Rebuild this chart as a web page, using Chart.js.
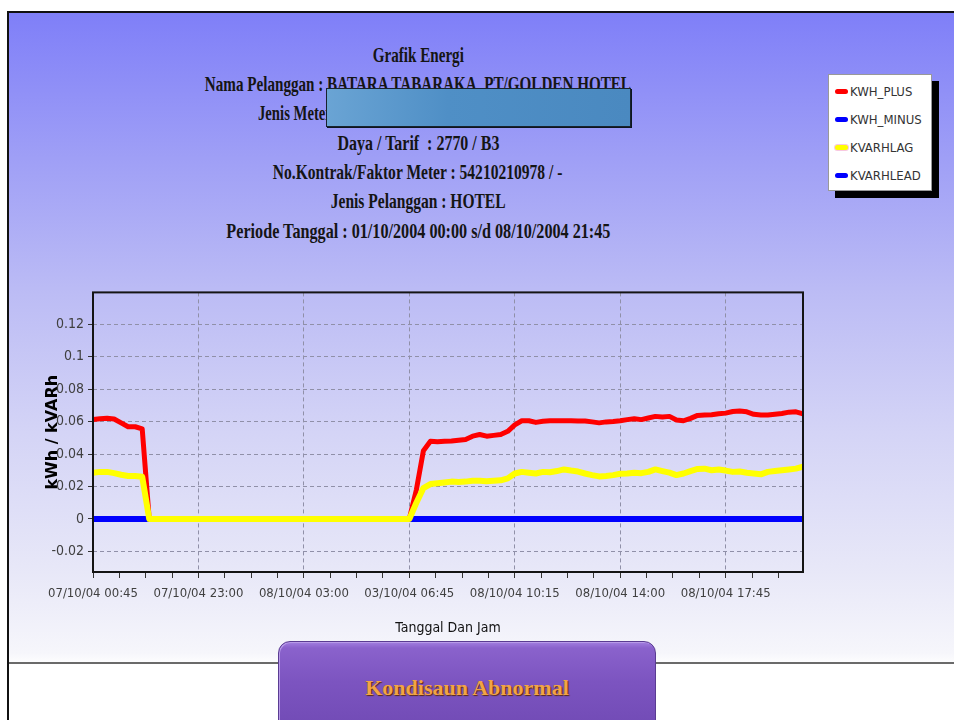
<!DOCTYPE html>
<html>
<head>
<meta charset="utf-8">
<script src="https://cdn.jsdelivr.net/npm/chart.js@4.4.1/dist/chart.umd.min.js"></script>
<style>
  html, body { margin: 0; padding: 0; }
  body { width: 954px; height: 720px; overflow: hidden; background: #ffffff; position: relative; }
  #page {
    position: absolute; left: 7px; top: 11px; width: 947px; height: 709px;
    border-left: 2px solid #111; border-top: 2px solid #111;
    background: linear-gradient(to bottom, #7f7ff8 0px, #a0a0f6 150px, #bcbcf5 280px, #d4d4f6 420px, #e8e8f8 560px, #f6f6fb 640px, #ffffff 652px, #ffffff 709px);
  }
  .tl {
    position: absolute; left: 0; width: 836px; text-align: center;
    font-family: "Liberation Serif", "Times New Roman", serif; font-weight: bold; font-size: 21px;
    color: #151515; line-height: 24px; white-space: nowrap;
  }
  .tl span { display: inline-block; transform: scaleX(0.74); transform-origin: center; }
  #redact {
    position: absolute; left: 326px; top: 88px; width: 303px; height: 37px;
    background: linear-gradient(to right, #6aa4d4, #4f8fc6 40%, #4a89c0);
    border: 1px solid #18222e; box-shadow: 1px 1px 0 #0d1620;
  }
  #legend {
    position: absolute; left: 828px; top: 74px; width: 102px; height: 115px;
    background: #fff; border: 1px solid #999; box-shadow: 7px 7px 0 #000;
    font-family: "DejaVu Sans Condensed", "DejaVu Sans", sans-serif; font-size: 13px; color: #333;
  }
  .lr { position: absolute; left: 0; height: 16px; line-height: 16px; white-space: nowrap; }
  .sw { display: inline-block; width: 13px; height: 5px; border-radius: 3px; vertical-align: middle; margin: 0 2px 0 6px; position: relative; top: -1px; }
  #hline { position: absolute; left: 9px; right: 0; top: 662px; height: 2px; background: #6a6a6a; }
  #btn {
    position: absolute; left: 278px; top: 641px; width: 376px; height: 100px;
    border-radius: 12px 12px 0 0;
    background: linear-gradient(to bottom, #a27ee0 0px, #8a62cc 6px, #7c54c0 40px, #6e48b2 100px);
    border: 1px solid #5a3c92; box-shadow: inset 1px 1px 0 #b89ae8;
    text-align: center;
  }
  #btn span {
    position: absolute; left: 0; right: 0; top: 33px;
    font-family: "Liberation Serif", "Times New Roman", serif; font-weight: bold; font-size: 22px;
    color: #f2a444; text-shadow: 1px 1px 1px #5a2a10;
  }
  #chartWrap { position: absolute; left: 35px; top: 280px; width: 795px; height: 360px; }
</style>
</head>
<body>
<div id="page"></div>

<div class="tl" style="top:43px;"><span style="transform:scaleX(0.72)">Grafik Energi</span></div>
<div class="tl" style="top:72px;"><span style="transform:scaleX(0.72)">Nama Pelanggan : BATARA TABARAKA, PT/GOLDEN HOTEL</span></div>
<div class="tl" style="top:101px; left:258px; width:auto; text-align:left;"><span style="transform:scaleX(0.70); transform-origin:left center;">Jenis Meter : </span></div>
<div id="redact"></div>
<div class="tl" style="top:131px;"><span style="transform:scaleX(0.76)">Daya / Tarif&nbsp;&nbsp;: 2770 / B3</span></div>
<div class="tl" style="top:160px;"><span>No.Kontrak/Faktor Meter : 54210210978 / -</span></div>
<div class="tl" style="top:189px;"><span>Jenis Pelanggan : HOTEL</span></div>
<div class="tl" style="top:219px;"><span style="transform:scaleX(0.77)">Periode Tanggal : 01/10/2004 00:00 s/d 08/10/2004 21:45</span></div>

<div id="legend"></div>

<div id="chartWrap"><canvas id="c" width="795" height="360"></canvas></div>

<div id="hline"></div>
<div id="btn"><span>Kondisaun Abnormal</span></div>

<script>
// ---- data ----
const seriesNames = ['KWH_PLUS', 'KWH_MINUS', 'KVARHLAG', 'KVARHLEAD'];
const seriesColors = ['#ff0000', '#0000ff', '#ffff00', '#0000ff'];

const xTickLabels = ['07/10/04 00:45', '07/10/04 23:00', '08/10/04 03:00', '03/10/04 06:45',
                     '08/10/04 10:15', '08/10/04 14:00', '08/10/04 17:45'];
const yTickValues = [-0.02, 0, 0.02, 0.04, 0.06, 0.08, 0.1, 0.12];
const yTickLabels = ['-0.02', '0', '0.02', '0.04', '0.06', '0.08', '0.1', '0.12'];

const kwhPlus = [
  0.0612, 0.0618, 0.0620, 0.0616, 0.0592, 0.0568, 0.0568, 0.0555, 0,
  0,0,0,0,0,0,0,0,0,0,
  0,0,0,0,0,0,0,0,0,0,
  0,0,0,0,0,0,0,0,0,0,
  0,0,0,0,0,0,0,
  0.018, 0.042, 0.0478, 0.0475, 0.0478, 0.048, 0.0485, 0.049, 0.051, 0.052,
  0.051, 0.0515, 0.052, 0.054, 0.058, 0.0605, 0.0605, 0.0595, 0.0602, 0.0605,
  0.0605, 0.0605, 0.0605, 0.0604, 0.0604, 0.0598, 0.0592, 0.0598, 0.060, 0.0605,
  0.0612, 0.0618, 0.0612, 0.0622, 0.0632, 0.0628, 0.0632, 0.061, 0.0605, 0.062,
  0.0638, 0.064, 0.0642, 0.0648, 0.0652, 0.0662, 0.0665, 0.066, 0.0645, 0.064,
  0.064, 0.0645, 0.065, 0.0658, 0.066, 0.0648
];

const kwhMinus = [
  0,0,0,0,0,0,0,0,0,0, 0,0,0,0,0,0,0,0,0,0, 0,0,0,0,0,0,0,0,0,0,
  0,0,0,0,0,0,0,0,0,0, 0,0,0,0,0,0,0,0,0,0, 0,0,0,0,0,0,0,0,0,0,
  0,0,0,0,0,0,0,0,0,0, 0,0,0,0,0,0,0,0,0,0, 0,0,0,0,0,0,0,0,0,0,
  0,0,0,0,0,0,0,0,0,0, 0,0
];

const kvarhLag = [
  0.0285, 0.029, 0.029, 0.0282, 0.0272, 0.0265, 0.0265, 0.026, 0,
  0,0,0,0,0,0,0,0,0,0,
  0,0,0,0,0,0,0,0,0,0,
  0,0,0,0,0,0,0,0,0,0,
  0,0,0,0,0,0,0,
  0.010, 0.019, 0.0215, 0.022, 0.0225, 0.023, 0.0228, 0.023, 0.0235, 0.0235,
  0.0232, 0.0235, 0.0238, 0.025, 0.028, 0.029, 0.0285, 0.028, 0.029, 0.0288,
  0.0295, 0.0305, 0.0298, 0.0292, 0.028, 0.027, 0.0262, 0.0265, 0.027, 0.0278,
  0.028, 0.0285, 0.0282, 0.029, 0.0305, 0.0295, 0.0285, 0.027, 0.028, 0.0295,
  0.0308, 0.031, 0.030, 0.0305, 0.0298, 0.029, 0.0292, 0.0285, 0.028, 0.0275,
  0.029, 0.0295, 0.030, 0.0305, 0.031, 0.0322
];

const kvarhLead = [
  0,0,0,0,0,0,0,0,0,0, 0,0,0,0,0,0,0,0,0,0, 0,0,0,0,0,0,0,0,0,0,
  0,0,0,0,0,0,0,0,0,0, 0,0,0,0,0,0,0,0,0,0, 0,0,0,0,0,0,0,0,0,0,
  0,0,0,0,0,0,0,0,0,0, 0,0,0,0,0,0,0,0,0,0, 0,0,0,0,0,0,0,0,0,0,
  0,0,0,0,0,0,0,0,0,0, 0,0
];

const seriesData = [kwhPlus, kwhMinus, kvarhLag, kvarhLead];
const pointsPerMajor = 15;   // readings between labelled ticks
const minorPerMajor = 4;
const pointIndex = kwhPlus.map((_, i) => i);

// ---- legend (HTML, from the series arrays) ----
const legendEl = document.getElementById('legend');
const rowTops = [9, 37, 65, 93];
seriesNames.forEach((name, i) => {
  const row = document.createElement('div');
  row.className = 'lr';
  row.style.top = rowTops[i] + 'px';
  const sw = document.createElement('span');
  sw.className = 'sw';
  sw.style.background = seriesColors[i];
  if (seriesColors[i] === '#ffff00') sw.style.boxShadow = '0 0 0 1px #f8c8e0';
  row.appendChild(sw);
  row.appendChild(document.createTextNode(name));
  legendEl.appendChild(row);
});

// ---- chart ----
const drawOrder = [1, 2, 0, 3];
const widths = [5, 6, 6, 6];

const framePlugin = {
  id: 'frame',
  afterDraw(chart) {
    const { ctx, chartArea: a } = chart;
    ctx.save();
    ctx.strokeStyle = '#141414';
    ctx.lineWidth = 2;
    ctx.strokeRect(a.left, a.top, a.right - a.left, a.bottom - a.top);
    ctx.restore();
  }
};

const tickFont = { family: "'DejaVu Sans Condensed', 'DejaVu Sans', sans-serif", size: 13 };

new Chart(document.getElementById('c'), {
  type: 'line',
  data: {
    labels: pointIndex,
    datasets: seriesNames.map((name, i) => ({
      label: name,
      data: seriesData[i],
      borderColor: seriesColors[i],
      backgroundColor: seriesColors[i],
      borderWidth: widths[i],
      pointRadius: 0,
      tension: 0,
      fill: false,
      order: drawOrder[i],
      borderJoinStyle: 'round',
      borderCapStyle: 'butt'
    }))
  },
  options: {
    responsive: false,
    animation: false,
    devicePixelRatio: 1,
    layout: { padding: { top: 9, right: 27, bottom: 0, left: 0 } },
    plugins: { legend: { display: false }, tooltip: { enabled: false } },
    scales: {
      x: {
        type: 'linear',
        min: 0,
        max: pointIndex[pointIndex.length - 1],
        afterBuildTicks(scale) {
          const step = pointsPerMajor / minorPerMajor;
          const t = [];
          for (let v = 0; v <= scale.max + 1e-9; v += step) t.push({ value: v });
          scale.ticks = t;
        },
        afterFit(scale) { scale.height = 68; },
        ticks: {
          autoSkip: false, maxRotation: 0, minRotation: 0,
          padding: 8,
          color: '#404040',
          font: tickFont,
          callback(value) {
            const k = value / pointsPerMajor;
            return Math.abs(k - Math.round(k)) < 1e-6 ? xTickLabels[Math.round(k)] : '';
          }
        },
        grid: {
          drawOnChartArea: true,
          color(ctx) {
            if (ctx.type !== 'tick') return 'transparent';
            const v = ctx.tick.value;
            const k = v / pointsPerMajor;
            return (v > 0 && Math.abs(k - Math.round(k)) < 1e-6) ? '#9090a8' : 'transparent';
          },
          tickColor: '#333',
          tickLength: 6,
          tickWidth: 1,
          tickBorderDash: [],
          lineWidth: 1
        },
        border: { display: false, dash: [4, 3] },
        title: {
          display: true, text: 'Tanggal Dan Jam', color: '#111',
          font: { family: "'DejaVu Sans Condensed', 'DejaVu Sans', sans-serif", size: 14 },
          padding: { top: 0, bottom: 3 }
        }
      },
      y: {
        type: 'linear',
        min: -0.0327,
        max: 0.1396,
        afterBuildTicks(scale) { scale.ticks = yTickValues.map(v => ({ value: v })); },
        afterFit(scale) { scale.width = 58; },
        ticks: {
          padding: 4,
          color: '#404040',
          font: { family: "'DejaVu Sans Condensed', 'DejaVu Sans', sans-serif", size: 14 },
          callback(value, index) { return yTickLabels[index]; }
        },
        grid: {
          color: '#9090a8',
          tickColor: '#333',
          tickLength: 5,
          tickBorderDash: [],
          lineWidth: 1
        },
        border: { display: false, dash: [4, 3] },
        title: {
          display: true, text: 'kWh / kVARh', color: '#000',
          font: { family: "'DejaVu Sans', sans-serif", size: 16, weight: 'bold' },
          padding: { top: 8, bottom: 0 }
        }
      }
    }
  },
  plugins: [framePlugin]
});
</script>
</body>
</html>
